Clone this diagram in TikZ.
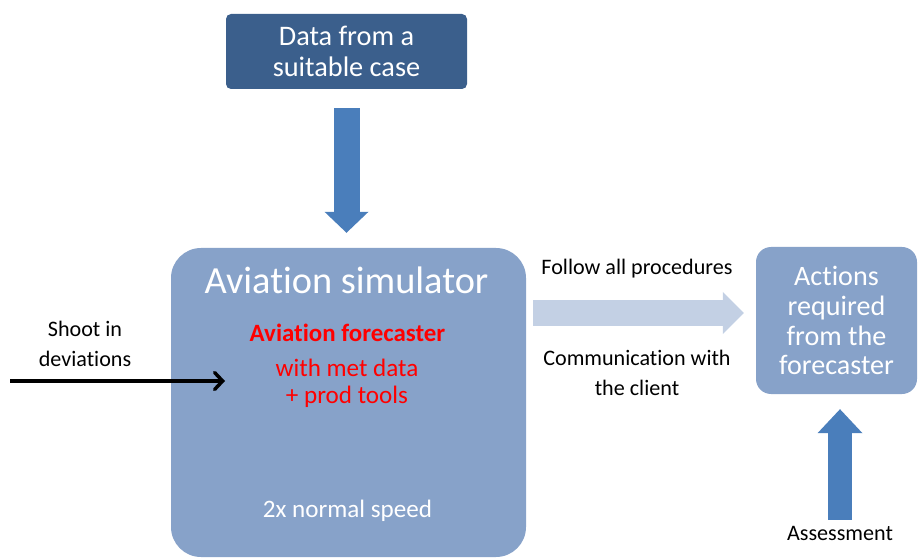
\documentclass[tikz,border=0pt]{standalone}
\usepackage{fontspec}
\setmainfont[Ligatures=NoCommon]{Carlito}
\usetikzlibrary{arrows.meta, positioning}
\definecolor{darkbox}{HTML}{3B5F8C}
\definecolor{simbox}{HTML}{87A2C9}
\definecolor{arrowblue}{HTML}{4A7EBB}
\definecolor{paleflow}{HTML}{C3D0E4}
\definecolor{fcred}{HTML}{FF0000}

\begin{document}
\begin{tikzpicture}[x=1bp, y=-1bp,
        panel/.style={fill=simbox, inner sep=0pt, text=white, align=center},
        caption/.style={align=center, inner sep=0pt, font=\fontsize{22.2}{30}\selectfont},
        redtext/.style={text=fcred, align=center, inner sep=0pt},
        blockarrow/.style={line width=#1, arrowblue}]
        \useasboundingbox (0,0) rectangle (920,559);

        \node (data) [panel, fill=darkbox, rounded corners=5bp, minimum width=241bp, minimum height=75bp,
            font=\fontsize{28.4}{31}\selectfont] at (346.5,51.5) {Data from a\\suitable case};
        \node (sim) [panel, rounded corners=30bp, minimum width=355bp, minimum height=309bp] at (348.5,402.5) {};
        \node (simtitle) [text=white, inner sep=0pt, font=\fontsize{38.5}{40}\selectfont] at (346.5,280) {Aviation simulator};
        \node (fcst) [redtext, font=\bfseries\fontsize{25}{26}\selectfont] at (347.5,333) {Aviation forecaster};
        \node (tools) [redtext, font=\fontsize{25.2}{27}\selectfont] at (347,383.5) {with met data\\+ prod tools};
        \node (speed) [text=white, inner sep=0pt, font=\fontsize{25.2}{27}\selectfont] at (347.5,511) {2x normal speed};
        \node (actions) [panel, rounded corners=15bp, minimum width=161bp, minimum height=147bp,
            font=\fontsize{28.2}{30}\selectfont] at (836.5,320.5) {Actions\\required\\from the\\forecaster};

        \node (shoot) [caption] at (85,343.5) {Shoot in\\deviations};
        \node (follow) [caption] at (637,269) {Follow all procedures};
        \node (comm) [caption] at (637,373) {Communication with\\the client};
        \node (assess) [caption] at (840,533) {Assessment};
        \coordinate (src) at (10,381);
        \coordinate (inject) at (225,381);

        \draw [blockarrow=26bp, -{Triangle[length=21bp, width=44bp, line width=0pt]},
            shorten <=19bp, shorten >=15bp] (data.south) -- (data.south |- sim.north);
        \draw [blockarrow=26bp, paleflow, -{Triangle[length=21bp, width=42bp, line width=0pt]},
            shorten <=7bp, shorten >=12bp] ([yshift=7.5bp]actions.west -| sim.east) -- ([yshift=7.5bp]actions.west);
        \draw [blockarrow=24bp, -{Triangle[length=24bp, width=45bp, line width=0pt]},
            shorten <=6bp, shorten >=15bp] (assess.north) -- (assess.north |- actions.south);
        \draw [line width=3.5bp, -{Straight Barb[length=8bp, width=17bp, line cap=round]}] (src) -- (inject);
\end{tikzpicture}
\end{document}
